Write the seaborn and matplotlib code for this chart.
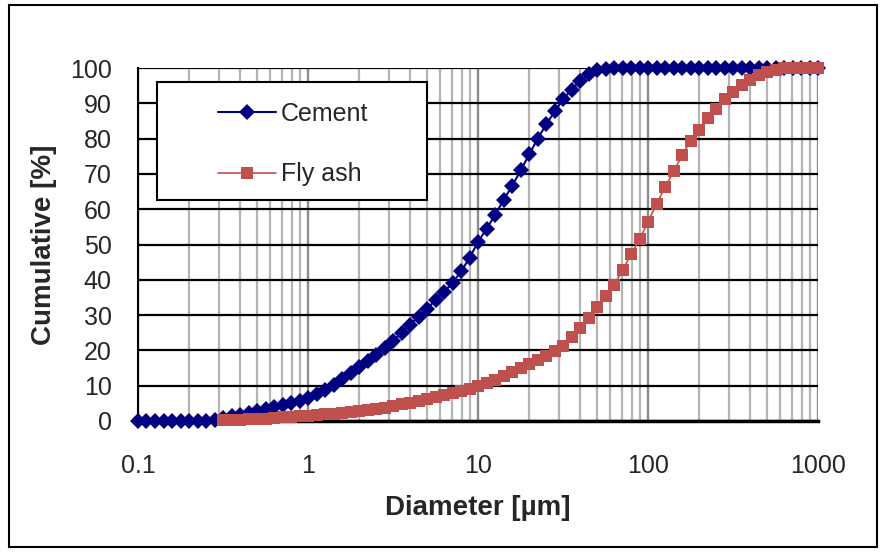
import matplotlib
matplotlib.use("Agg")
import matplotlib.pyplot as plt
import matplotlib.ticker as mticker
from matplotlib.patches import Rectangle
import pandas as pd
import seaborn as sns

# particle size classes [um]
diameter = [
    0.100, 0.112, 0.126, 0.142, 0.159, 0.178, 0.200, 0.224, 0.252, 0.283,
    0.317, 0.356, 0.399, 0.448, 0.502, 0.564, 0.632, 0.710, 0.796, 0.893,
    1.002, 1.125, 1.262, 1.416, 1.589, 1.783, 2.000, 2.244, 2.518, 2.825,
    3.170, 3.557, 3.991, 4.477, 5.024, 5.637, 6.325, 7.096, 7.962, 8.934,
    10.024, 11.247, 12.619, 14.159, 15.887, 17.825, 20.000, 22.440, 25.179, 28.251,
    31.698, 35.566, 39.905, 44.774, 50.238, 56.368, 63.246, 70.963, 79.621, 89.337,
    100.237, 112.468, 126.191, 141.589, 158.866, 178.250, 200.000, 224.404, 251.785, 282.508,
    316.979, 355.656, 399.052, 447.744, 502.377, 563.677, 632.456, 709.627, 796.214, 893.367,
    1000.0,
]

cement = [
    0, 0, 0, 0, 0, 0, 0, 0, 0, 0.3,
    0.8, 1.3, 1.8, 2.3, 2.9, 3.4, 4.0, 4.6, 5.2, 5.8,
    6.6, 7.7, 8.9, 10.3, 11.9, 13.5, 15.2, 16.9, 18.7, 20.7,
    22.8, 25.0, 27.3, 29.6, 31.8, 34.4, 36.6, 39.2, 42.4, 46.3,
    50.8, 54.5, 58.4, 62.7, 66.6, 71.0, 75.5, 80.0, 84.0, 87.7,
    91.2, 93.9, 96.3, 98.2, 99.3, 99.8, 100, 100, 100, 100,
    100, 100, 100, 100, 100, 100, 100, 100, 100, 100,
    100, 100, 100, 100, 100, 100, 100, 100, 100, 100,
    100,
]

# fly ash is measured from 0.317 um upward
fly_ash_diameter = diameter[10:]
fly_ash = [
    0.2, 0.3, 0.4, 0.5, 0.6, 0.7, 0.8, 1.0, 1.1, 1.3,
    1.5, 1.7, 1.9, 2.1, 2.3, 2.5, 2.7, 3.0, 3.3, 3.7,
    4.2, 4.7, 5.2, 5.7, 6.2, 6.8, 7.4, 7.9, 8.5, 9.2,
    9.8, 10.8, 11.7, 12.7, 13.8, 15.0, 16.1, 17.3, 18.5, 19.7,
    21.2, 23.9, 26.4, 29.3, 32.2, 35.5, 38.5, 42.8, 47.2, 51.5,
    56.5, 61.6, 66.3, 70.7, 75.3, 79.4, 82.5, 85.9, 88.5, 91.2,
    93.3, 95.1, 96.7, 97.9, 98.8, 99.5, 99.9, 100, 100, 100,
    100,
]

x_ticks = [0.1, 1, 10, 100, 1000]
x_tick_labels = ["0.1", "1", "10", "100", "1000"]
y_ticks = [0, 10, 20, 30, 40, 50, 60, 70, 80, 90, 100]

cement_df = pd.DataFrame({"diameter": diameter, "cumulative": cement})
fly_df = pd.DataFrame({"diameter": fly_ash_diameter, "cumulative": fly_ash})

sns.set_style("white")
plt.rcParams["font.family"] = ["Liberation Sans", "DejaVu Sans"]

fig = plt.figure(figsize=(8.85, 5.52), dpi=100)
ax = fig.add_axes([138 / 885, 1 - 421 / 552, 680 / 885, 353 / 552])

sns.lineplot(data=cement_df, x="diameter", y="cumulative", ax=ax,
             color="#000080", marker="D", markersize=8, markeredgewidth=0,
             linewidth=1.5, estimator=None, label="Cement", legend=False,
             clip_on=False, zorder=5)
sns.lineplot(data=fly_df, x="diameter", y="cumulative", ax=ax,
             color="#C0504D", marker="s", markersize=9, markeredgewidth=0,
             linewidth=1.2, estimator=None, label="Fly ash", legend=False,
             clip_on=False, zorder=6)

ax.set_xscale("log")
ax.set_xlim(0.1, 1000)
ax.set_ylim(0, 100)
ax.xaxis.set_major_locator(mticker.FixedLocator(x_ticks))
ax.set_xticklabels(x_tick_labels)
ax.xaxis.set_minor_locator(mticker.LogLocator(base=10, subs=range(2, 10)))
ax.xaxis.set_minor_formatter(mticker.NullFormatter())
ax.set_yticks(y_ticks)

ax.set_axisbelow(True)
ax.yaxis.grid(True, color="black", linewidth=1.6)
ax.xaxis.grid(True, which="major", color="#8c8c8c", linewidth=1.7)
ax.xaxis.grid(True, which="minor", color="#b4b4b4", linewidth=1.6)

for side in ["top", "right"]:
    ax.spines[side].set_visible(False)
ax.spines["left"].set_color("black")
ax.spines["left"].set_linewidth(1.5)
ax.spines["bottom"].set_color("black")
ax.spines["bottom"].set_linewidth(2.5)

ax.tick_params(axis="x", which="major", direction="out", length=6, width=1.5,
               color="black", labelsize=18, pad=18)
ax.tick_params(axis="x", which="minor", length=0)
ax.tick_params(axis="y", direction="out", length=5, width=1.5,
               color="black", labelsize=18, pad=14)

ax.set_xlabel("Diameter [µm]", fontsize=20, fontweight="bold", labelpad=12)
ax.set_ylabel("Cumulative [%]", fontsize=20, fontweight="bold", labelpad=9)

# legend box
ax.add_patch(Rectangle((0.028, 0.626), 0.397, 0.334, transform=ax.transAxes,
                       facecolor="white", edgecolor="black", linewidth=1.5,
                       zorder=7, clip_on=False))
leg = ax.legend(loc="upper left", bbox_to_anchor=(0.118, 0.903), frameon=False,
                fontsize=18, borderpad=0, labelspacing=1.45, handlelength=2.3,
                handletextpad=0.2, borderaxespad=0)
leg.set_zorder(8)

# outer chart border
fig.patches.append(Rectangle((9 / 885, 5 / 552), 868 / 885, 542 / 552,
                             transform=fig.transFigure, fill=False,
                             edgecolor="black", linewidth=1.5))

fig.savefig("out.png", dpi=100)
